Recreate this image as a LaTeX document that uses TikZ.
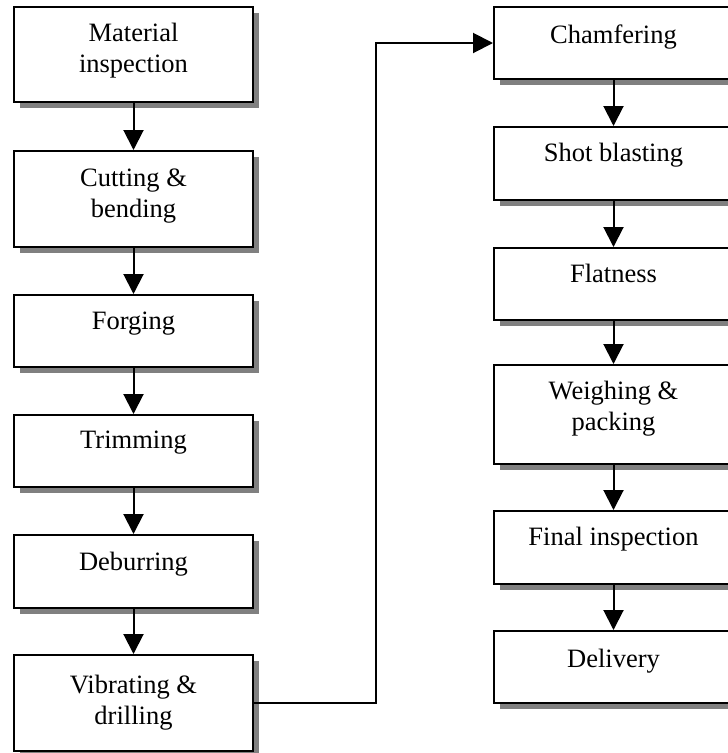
\documentclass[tikz,border=0pt]{standalone}
\usepackage{fontspec}
\setmainfont{Liberation Serif}
\usetikzlibrary{arrows.meta,shadows}
\definecolor{shadowgray}{RGB}{128,128,128}
\tikzset{
  stage/.style={draw, line width=2pt, fill=white, minimum width=239pt,
    anchor=north, inner sep=0pt,
    drop shadow={shadow xshift=6pt, shadow yshift=-6pt, fill=shadowgray, opacity=1}},
  caption/.style={anchor=base, align=center, inner sep=0pt,
    font=\fontsize{26.5}{31}\selectfont},
  flow/.style={line width=2pt, -{Triangle[length=20pt,width=20pt]}},
}
\begin{document}
\begin{tikzpicture}[x=1pt,y=-1pt]
  \useasboundingbox (0,0) rectangle (728,753);
  \clip (0,0) rectangle (728,753);

  % left column
  \node[stage, minimum height=95pt] (b1) at (133.5,6)   {};
  \node[stage, minimum height=96pt] (b2) at (133.5,150) {};
  \node[stage, minimum height=72pt] (b3) at (133.5,294) {};
  \node[stage, minimum height=72pt] (b4) at (133.5,414) {};
  \node[stage, minimum height=73pt] (b5) at (133.5,534) {};
  \node[stage, minimum height=96pt] (b6) at (133.5,654) {};

  % right column
  \node[stage, minimum height=72pt] (r1) at (613.5,6)   {};
  \node[stage, minimum height=73pt] (r2) at (613.5,126) {};
  \node[stage, minimum height=72pt] (r3) at (613.5,247) {};
  \node[stage, minimum height=99pt] (r4) at (613.5,364) {};
  \node[stage, minimum height=73pt] (r5) at (613.5,510) {};
  \node[stage, minimum height=72pt] (r6) at (613.5,630) {};

  % captions (base anchor sits on the last line)
  \node[caption] (t1) at ([yshift=-66pt]b1.north) {Material\\inspection};
  \node[caption] (t2) at ([yshift=-67pt]b2.north) {Cutting \&\\bending};
  \node[caption] (t3) at ([yshift=-35pt]b3.north) {Forging};
  \node[caption] (t4) at ([yshift=-34pt]b4.north) {Trimming};
  \node[caption] (t5) at ([yshift=-36pt]b5.north) {Deburring};
  \node[caption] (t6) at ([yshift=-70pt]b6.north) {Vibrating \&\\drilling};
  \node[caption] (u1) at ([yshift=-37pt]r1.north) {Chamfering};
  \node[caption] (u2) at ([yshift=-35pt]r2.north) {Shot blasting};
  \node[caption] (u3) at ([yshift=-35pt]r3.north) {Flatness};
  \node[caption] (u4) at ([yshift=-66pt]r4.north) {Weighing \&\\packing};
  \node[caption] (u5) at ([yshift=-35pt]r5.north) {Final inspection};
  \node[caption] (u6) at ([yshift=-37pt]r6.north) {Delivery};

  % flow arrows
  \draw[flow] (b1.south) -- (b2.north);
  \draw[flow] (b2.south) -- (b3.north);
  \draw[flow] (b3.south) -- (b4.north);
  \draw[flow] (b4.south) -- (b5.north);
  \draw[flow] (b5.south) -- (b6.north);
  \coordinate (bend) at (376,0);
  \draw[flow] (b6.east) -| (bend |- r1.west) -- (r1.west);
  \draw[flow] (r1.south) -- (r2.north);
  \draw[flow] (r2.south) -- (r3.north);
  \draw[flow] (r3.south) -- (r4.north);
  \draw[flow] (r4.south) -- (r5.north);
  \draw[flow] (r5.south) -- (r6.north);
\end{tikzpicture}
\end{document}
